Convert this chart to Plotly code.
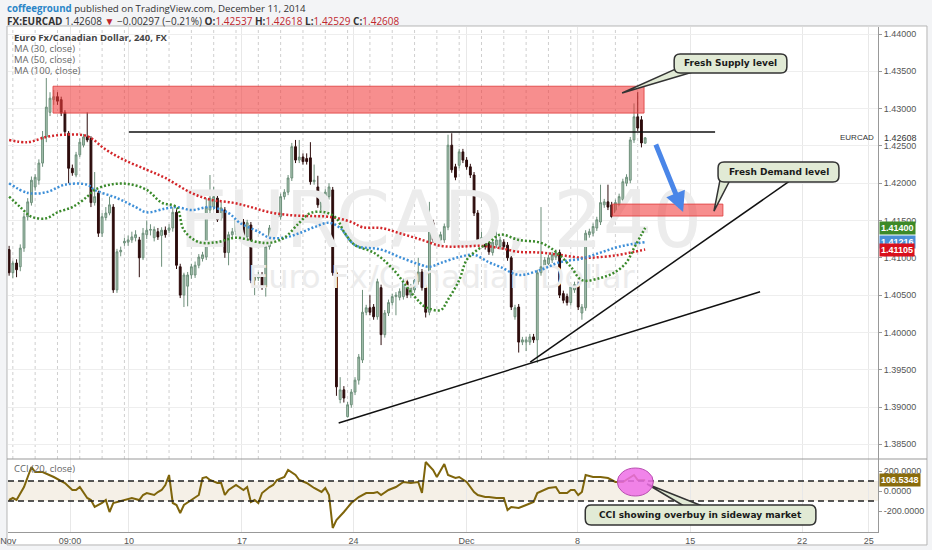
import plotly.graph_objects as go

# ---------------- data (EURCAD, 4h bars) ----------------
# bar index 0 = first candle at the left edge, 171 = Dec 11 last candle
opens = [1.4111, 1.4080, 1.4093, 1.4088, 1.4113, 1.4155, 1.4174, 1.4195, 1.4204, 1.4227,
         1.4262, 1.4295, 1.4312, 1.4316, 1.4312, 1.4295, 1.4267, 1.4220, 1.4211, 1.4238,
         1.4251, 1.4262, 1.4260, 1.4174, 1.4187, 1.4133, 1.4154, 1.4160, 1.4168, 1.4057,
         1.4108, 1.4120, 1.4121, 1.4124, 1.4127, 1.4124, 1.4100, 1.4131, 1.4137, 1.4127,
         1.4135, 1.4130, 1.4137, 1.4137, 1.4140, 1.4161, 1.4088, 1.4050, 1.4062, 1.4077,
         1.4077, 1.4090, 1.4099, 1.4101, 1.4164, 1.4168, 1.4180, 1.4153, 1.4164, 1.4107,
         1.4131, 1.4135, 1.4147, 1.4148, 1.4128, 1.4144, 1.4070, 1.4073, 1.4077, 1.4061,
         1.4115, 1.4140, 1.4161, 1.4155, 1.4182, 1.4188, 1.4207, 1.4249, 1.4231, 1.4235,
         1.4233, 1.4234, 1.4202, 1.4195, 1.4164, 1.4174, 1.4182, 1.4191, 1.4080, 1.3910,
         1.3923, 1.3887, 1.3903, 1.3920, 1.3936, 1.3963, 1.4027, 1.4033, 1.4034, 1.4021,
         1.4060, 1.3997, 1.4026, 1.4040, 1.4048, 1.4047, 1.4048, 1.4068, 1.4050, 1.4057,
         1.4068, 1.4081, 1.4060, 1.4027, 1.4147, 1.4121, 1.4124, 1.4124, 1.4141, 1.4251,
         1.4222, 1.4224, 1.4242, 1.4231, 1.4222, 1.4211, 1.4160, 1.4121, 1.4124, 1.4120,
         1.4107, 1.4117, 1.4115, 1.4121, 1.4117, 1.4100, 1.4021, 1.4034, 1.3987, 1.3987,
         1.3987, 1.3994, 1.3990, 1.4080, 1.4088, 1.4092, 1.4097, 1.4101, 1.4107, 1.4052,
         1.4048, 1.4040, 1.4057, 1.4064, 1.4026, 1.4033, 1.4131, 1.4133, 1.4140, 1.4148,
         1.4171, 1.4175, 1.4171, 1.4160, 1.4171, 1.4178, 1.4200, 1.4204, 1.4258, 1.4289,
         1.4285, 1.42537]
highs = [1.4116, 1.4096, 1.4098, 1.4118, 1.4160, 1.4180, 1.4209, 1.4212, 1.4232, 1.4270,
         1.4341, 1.4322, 1.4325, 1.4322, 1.4316, 1.4298, 1.4270, 1.4225, 1.4242, 1.4260,
         1.4266, 1.4295, 1.4263, 1.4215, 1.4190, 1.4160, 1.4168, 1.4182, 1.4172, 1.4112,
         1.4115, 1.4127, 1.4130, 1.4135, 1.4137, 1.4128, 1.4140, 1.4150, 1.4145, 1.4142,
         1.4140, 1.4141, 1.4142, 1.4145, 1.4168, 1.4165, 1.4092, 1.4080, 1.4081, 1.4092,
         1.4095, 1.4105, 1.4108, 1.4180, 1.4211, 1.4195, 1.4185, 1.4175, 1.4168, 1.4135,
         1.4140, 1.4155, 1.4175, 1.4152, 1.4151, 1.4148, 1.4078, 1.4081, 1.4081, 1.4119,
         1.4144, 1.4188, 1.4166, 1.4186, 1.4192, 1.4211, 1.4254, 1.4258, 1.4258, 1.4240,
         1.4240, 1.4255, 1.4225, 1.4210, 1.4179, 1.4192, 1.4200, 1.4195, 1.4084, 1.3940,
         1.3928, 1.3907, 1.3924, 1.3940, 1.3971, 1.4057, 1.4037, 1.4050, 1.4038, 1.4072,
         1.4064, 1.4030, 1.4044, 1.4052, 1.4054, 1.4059, 1.4072, 1.4072, 1.4065, 1.4074,
         1.4100, 1.4085, 1.4064, 1.4175, 1.4151, 1.4132, 1.4135, 1.4146, 1.4265, 1.4267,
         1.4226, 1.4246, 1.4246, 1.4235, 1.4226, 1.4215, 1.4164, 1.4135, 1.4128, 1.4133,
         1.4125, 1.4147, 1.4128, 1.4125, 1.4121, 1.4104, 1.4037, 1.4038, 1.3994, 1.3994,
         1.3998, 1.3998, 1.4084, 1.4168, 1.4101, 1.4104, 1.4108, 1.4111, 1.4111, 1.4056,
         1.4052, 1.4065, 1.4068, 1.4068, 1.4038, 1.4137, 1.4139, 1.4146, 1.4155, 1.4198,
         1.4179, 1.4198, 1.4175, 1.4178, 1.4186, 1.4206, 1.4212, 1.4262, 1.4307, 1.4322,
         1.4290, 1.42618]
lows = [1.4076, 1.4073, 1.4074, 1.4082, 1.4108, 1.4150, 1.4170, 1.4190, 1.4198, 1.4222,
        1.4255, 1.4290, 1.4305, 1.4305, 1.4290, 1.4265, 1.4200, 1.4210, 1.4208, 1.4235,
        1.4248, 1.4255, 1.4168, 1.4170, 1.4128, 1.4128, 1.4150, 1.4157, 1.4053, 1.4053,
        1.4102, 1.4116, 1.4116, 1.4120, 1.4122, 1.4074, 1.4097, 1.4125, 1.4130, 1.4122,
        1.4124, 1.4088, 1.4127, 1.4133, 1.4135, 1.4085, 1.4046, 1.4034, 1.4035, 1.4072,
        1.4073, 1.4086, 1.4095, 1.4097, 1.4160, 1.4164, 1.4148, 1.4150, 1.4100, 1.4090,
        1.4127, 1.4131, 1.4143, 1.4124, 1.4124, 1.4066, 1.4050, 1.4069, 1.4057, 1.4048,
        1.4111, 1.4136, 1.4150, 1.4151, 1.4178, 1.4184, 1.4203, 1.4227, 1.4227, 1.4225,
        1.4225, 1.4198, 1.4198, 1.4167, 1.4160, 1.4170, 1.4178, 1.4076, 1.3915, 1.3905,
        1.3906, 1.3886, 1.3899, 1.3916, 1.3930, 1.3959, 1.4023, 1.4023, 1.4017, 1.4017,
        1.3983, 1.3993, 1.4022, 1.4036, 1.4023, 1.4043, 1.4044, 1.4046, 1.4046, 1.4053,
        1.4064, 1.4056, 1.4020, 1.4023, 1.4120, 1.4117, 1.4120, 1.4120, 1.4137, 1.4214,
        1.4204, 1.4220, 1.4227, 1.4218, 1.4207, 1.4156, 1.4117, 1.4117, 1.4111, 1.4104,
        1.4103, 1.4113, 1.4111, 1.4111, 1.4096, 1.4030, 1.4017, 1.3973, 1.3983, 1.3975,
        1.3983, 1.3986, 1.3959, 1.4076, 1.4084, 1.4088, 1.4093, 1.4097, 1.4046, 1.4039,
        1.4036, 1.4036, 1.4053, 1.4030, 1.4017, 1.4029, 1.4127, 1.4129, 1.4136, 1.4144,
        1.4167, 1.4164, 1.4137, 1.4156, 1.4167, 1.4174, 1.4196, 1.4200, 1.4254, 1.4270,
        1.4248, 1.42529]
closes = [1.4080, 1.4093, 1.4084, 1.4113, 1.4155, 1.4175, 1.4204, 1.4208, 1.4227, 1.4262,
          1.4302, 1.4314, 1.4316, 1.4310, 1.4294, 1.4269, 1.4220, 1.4214, 1.4238, 1.4255,
          1.4262, 1.4258, 1.4174, 1.4182, 1.4133, 1.4155, 1.4160, 1.4171, 1.4057, 1.4108,
          1.4110, 1.4122, 1.4124, 1.4128, 1.4131, 1.4100, 1.4133, 1.4137, 1.4138, 1.4138,
          1.4128, 1.4137, 1.4131, 1.4140, 1.4161, 1.4090, 1.4050, 1.4077, 1.4077, 1.4088,
          1.4090, 1.4101, 1.4104, 1.4168, 1.4180, 1.4182, 1.4151, 1.4167, 1.4107, 1.4131,
          1.4135, 1.4151, 1.4153, 1.4128, 1.4147, 1.4070, 1.4074, 1.4077, 1.4061, 1.4115,
          1.4140, 1.4160, 1.4154, 1.4182, 1.4188, 1.4207, 1.4249, 1.4231, 1.4235, 1.4229,
          1.4229, 1.4202, 1.4204, 1.4171, 1.4175, 1.4188, 1.4195, 1.4080, 1.3927, 1.3923,
          1.3912, 1.3903, 1.3920, 1.3936, 1.3967, 1.4027, 1.4033, 1.4027, 1.4021, 1.4068,
          1.3997, 1.4026, 1.4040, 1.4048, 1.4050, 1.4055, 1.4068, 1.4050, 1.4061, 1.4070,
          1.4081, 1.4060, 1.4027, 1.4147, 1.4124, 1.4128, 1.4131, 1.4142, 1.4251, 1.4218,
          1.4208, 1.4242, 1.4231, 1.4222, 1.4211, 1.4160, 1.4121, 1.4127, 1.4115, 1.4108,
          1.4121, 1.4124, 1.4124, 1.4115, 1.4100, 1.4034, 1.4033, 1.3987, 1.3990, 1.3990,
          1.3994, 1.3990, 1.4080, 1.4088, 1.4097, 1.4100, 1.4104, 1.4107, 1.4050, 1.4043,
          1.4040, 1.4061, 1.4064, 1.4034, 1.4034, 1.4133, 1.4135, 1.4142, 1.4151, 1.4174,
          1.4175, 1.4168, 1.4155, 1.4174, 1.4182, 1.4202, 1.4208, 1.4258, 1.4289, 1.4274,
          1.4254, 1.42608]
assert len(opens) == len(highs) == len(lows) == len(closes)
bars = list(range(len(closes)))

# moving averages (read at sample bars)
ma30_x = [0, 3, 6, 10, 13, 17, 21, 23, 27, 32, 37, 41, 45, 47, 51, 56, 61, 67, 70, 74,
          78, 81, 85, 88, 90, 93, 98, 103, 109, 112, 116, 118, 121, 123, 126, 129, 132, 137, 143, 147,
          151, 154, 159, 163, 166, 168, 170, 171]
ma30_y = [1.4182, 1.4168, 1.4155, 1.4153, 1.4161, 1.4168, 1.4182, 1.4191, 1.4198, 1.4199,
          1.4191, 1.4174, 1.4168, 1.4137, 1.4121, 1.4121, 1.4127, 1.4121, 1.4120, 1.4127,
          1.4147, 1.4160, 1.4161, 1.4153, 1.4135, 1.4117, 1.4107, 1.4086, 1.4048, 1.4034,
          1.4030, 1.4044, 1.4070, 1.4097, 1.4111, 1.4120, 1.4131, 1.4124, 1.4120, 1.4108,
          1.4088, 1.4070, 1.4073, 1.4081, 1.4094, 1.4113, 1.4131, 1.4140]
ma50_x = [0, 5, 10, 15, 21, 23, 29, 34, 37, 42, 45, 49, 54, 59, 62, 67, 70, 74, 78, 82,
          86, 89, 93, 100, 105, 111, 113, 116, 121, 125, 129, 132, 137, 143, 148, 154, 159, 164, 171]
ma50_y = [1.4200, 1.4187, 1.4188, 1.4198, 1.4198, 1.4191, 1.4180, 1.4168, 1.4161, 1.4166,
          1.4168, 1.4164, 1.4168, 1.4160, 1.4147, 1.4135, 1.4127, 1.4127, 1.4133, 1.4141,
          1.4147, 1.4140, 1.4117, 1.4111, 1.4101, 1.4090, 1.4088, 1.4093, 1.4101, 1.4104,
          1.4094, 1.4088, 1.4077, 1.4084, 1.4094, 1.4099, 1.4107, 1.4115, 1.4121]
ma100_x = [0, 5, 10, 15, 21, 26, 31, 37, 42, 49, 54, 60, 65, 70, 76, 81, 86, 92, 95, 100,
           105, 111, 116, 121, 127, 132, 137, 143, 148, 154, 159, 164, 168, 171]
ma100_y = [1.4258, 1.4255, 1.4262, 1.4265, 1.4263, 1.4245, 1.4231, 1.4218, 1.4207, 1.4187,
           1.4178, 1.4174, 1.4168, 1.4161, 1.4157, 1.4156, 1.4155, 1.4148, 1.4141, 1.4140,
           1.4133, 1.4124, 1.4116, 1.4115, 1.4116, 1.4113, 1.4108, 1.4107, 1.4104, 1.4100,
           1.4101, 1.4104, 1.4108, 1.4111]

# CCI (20, close)
cci_x = [0, 1, 2, 4, 6, 7, 9, 12, 15, 17, 18, 19, 21, 22, 23, 25, 26, 27, 28, 31,
         33, 35, 36, 37, 39, 40, 41, 42, 43, 44, 45, 46, 47, 49, 51, 52, 53, 54, 56, 57,
         58, 59, 61, 63, 64, 65, 66, 67, 68, 70, 71, 72, 74, 75, 77, 78, 80, 82, 84, 85,
         86, 87, 88, 90, 92, 94, 96, 98, 99, 100, 102, 104, 106, 108, 110, 111, 112, 114, 115, 117,
         118, 120, 121, 123, 125, 126, 128, 129, 131, 133, 134, 135, 137, 139, 141, 142, 145, 147, 148, 150,
         151, 152, 153, 154, 155, 157, 159, 161, 163, 165, 168, 169, 171]
cci_y = [-90, -70, -90, 40, 240, 190, 190, 140, 80, 10, 10, 40, -70, -90, -160, -120, -90, -210, -120, -90,
         -70, -90, -40, -20, -40, -10, 10, 60, 160, -120, -140, -220, -140, -90, -40, 130, 140, 110, 80, 80,
         -40, 10, 60, 10, 40, -110, -90, -120, -20, 40, 60, 110, 140, 210, 160, 110, 80, 30, -10, 30,
         -40, -370, -290, -210, -120, -60, -20, -20, -10, -40, 10, 40, 90, 80, 90, -20, 290, 210, 140, 270,
         160, 130, 140, 90, -10, -40, -60, -60, -70, -70, -190, -160, -170, -140, -110, -20, 30, 40, -20, -20,
         10, 10, -40, -10, 160, 140, 140, 130, 90, 90, 160, 110, 106.5348]

# x axis labels (bar positions)
tick_pos = [-0.2, 16.4, 32.2, 62.6, 92.6, 123.0, 152.8, 183.1, 213.2, 231.1]
tick_text = ["Nov", "09:00", "10", "17", "24", "Dec", "8", "15", "22", "25"]
price_ticks = [1.385, 1.390, 1.395, 1.400, 1.405, 1.410, 1.415, 1.420, 1.425, 1.430, 1.435, 1.440]
cci_ticks = [200, 0, -200]
cci_tick_text = ["200.0000", "0.0000", "-200.0000"]

# ---------------- figure ----------------
AX_FONT = dict(family="Liberation Sans", size=9, color="#555555")
TXT = "Open Sans"

fig = go.Figure()

# watermark (drawn first so it stays under the candles)
fig.add_trace(go.Scatter(x=[116.0], y=[1.4140], mode="text", text=["EURCAD, 240"],
                         textfont=dict(family="DejaVu Sans", size=78, color="#ececec"),
                         hoverinfo="skip", showlegend=False))
fig.add_trace(go.Scatter(x=[116.2], y=[1.4070], mode="text", text=["Euro Fx/Canadian Dollar"],
                         textfont=dict(family="DejaVu Sans", size=32, color="#ececec"),
                         hoverinfo="skip", showlegend=False))

fig.add_trace(go.Candlestick(
    x=bars, open=opens, high=highs, low=lows, close=closes,
    increasing=dict(fillcolor="#a9c5b3", line=dict(color="#6d8f7a", width=1)),
    decreasing=dict(fillcolor="#2d0c0c", line=dict(color="#2d0c0c", width=1)),
    whiskerwidth=0, showlegend=False, hoverinfo="skip"))

for xs, ys, col in [(ma100_x, ma100_y, "#d3262a"),
                    (ma50_x, ma50_y, "#3d8fd8"),
                    (ma30_x, ma30_y, "#3b8a2c")]:
    fig.add_trace(go.Scatter(x=xs, y=ys, mode="lines",
                             line=dict(color=col, width=2.5, dash="2px,2px", shape="spline"),
                             hoverinfo="skip", showlegend=False))

fig.add_trace(go.Scatter(x=cci_x, y=cci_y, yaxis="y2", mode="lines",
                         line=dict(color="#7f650b", width=2),
                         hoverinfo="skip", showlegend=False))

shapes = []
# white chart frame
shapes.append(dict(type="rect", xref="paper", yref="paper", x0=-0.00115, x1=1.0563,
                   y0=-0.0257, y1=1.002, fillcolor="white",
                   line=dict(color="#b5b5b5", width=1), layer="below"))
# daily dotted lines
for d in range(1, 170, 6):
    shapes.append(dict(type="line", xref="x", yref="y domain", x0=d, x1=d, y0=0, y1=1,
                       line=dict(color="#cfcfcf", width=1, dash="dot"), layer="below"))
# CCI band and levels
shapes.append(dict(type="rect", xref="x domain", yref="y2", x0=0, x1=1, y0=-100, y1=100,
                   fillcolor="#f5f0e7", line=dict(width=0), layer="below"))
for lvl in (100, -100):
    shapes.append(dict(type="line", xref="x domain", yref="y2", x0=0, x1=1, y0=lvl, y1=lvl,
                       line=dict(color="#222222", width=1.5, dash="6px,4px")))
# panel separator
shapes.append(dict(type="line", xref="paper", yref="paper", x0=-0.00115, x1=1.0563,
                   y0=0.14455, y1=0.14455, line=dict(color="#999999", width=1)))

ZONE_FILL = "rgba(242,60,60,0.58)"
ZONE_LINE = "rgba(225,70,70,0.9)"
# supply / demand zones
shapes.append(dict(type="rect", x0=11.8, x1=170.7, y0=1.4294, y1=1.4330,
                   fillcolor=ZONE_FILL, line=dict(color=ZONE_LINE, width=1)))
shapes.append(dict(type="rect", x0=162.1, x1=191.9, y0=1.4156, y1=1.4172,
                   fillcolor=ZONE_FILL, line=dict(color=ZONE_LINE, width=1)))
# resistance line and trendlines
shapes.append(dict(type="line", x0=32.2, x1=189.8, y0=1.42686, y1=1.42686,
                   line=dict(color="#111111", width=1.5)))
shapes.append(dict(type="line", x0=88.6, x1=201.9, y0=1.38785, y1=1.40544,
                   line=dict(color="#111111", width=1.5)))
shapes.append(dict(type="line", x0=140.1, x1=209.9, y0=1.39603, y1=1.42030,
                   line=dict(color="#111111", width=1.5)))


def rounded_box(x0, x1, y0, y1, rx, ry):
    return (f"M {x0 + rx},{y1} L {x1 - rx},{y1} Q {x1},{y1} {x1},{y1 - ry} "
            f"L {x1},{y0 + ry} Q {x1},{y0} {x1 - rx},{y0} L {x0 + rx},{y0} "
            f"Q {x0},{y0} {x0},{y0 + ry} L {x0},{y1 - ry} Q {x0},{y1} {x0 + rx},{y1} Z")


BOX_FILL = "#e1ead5"
BOX_LINE = dict(color="#333333", width=1.5)


def callout(yref, box, tail, rx, ry):
    a, tip, b = tail
    shapes.append(dict(type="path", xref="x", yref=yref,
                       path=f"M {a[0]},{a[1]} L {tip[0]},{tip[1]} L {b[0]},{b[1]} Z",
                       fillcolor=BOX_FILL, line=BOX_LINE))
    shapes.append(dict(type="path", xref="x", yref=yref,
                       path=rounded_box(*box, rx, ry), fillcolor=BOX_FILL, line=BOX_LINE))


callout("y", (178.8, 209.1, 1.43477, 1.43732),
        ((180.5, 1.43560), (164.8, 1.43209), (184.5, 1.43500)), 1.6, 0.0008)
callout("y", (190.6, 223.1, 1.42016, 1.42284),
        ((191.2, 1.42060), (189.5, 1.41627), (194.0, 1.42060)), 1.6, 0.0008)
callout("y2", (154.9, 216.9, -340, -140),
        ((182.3, -170), (171.5, 70), (187.7, -170)), 1.6, 60)
# pink highlight on the CCI
shapes.append(dict(type="circle", xref="x", yref="y2", x0=163.5, x1=173.2, y0=-50, y1=230,
                   fillcolor="rgba(238,110,230,0.85)", line=dict(color="#b84fb0", width=1)))

RED = "#c0262d"
ann = []
ann.append(dict(xref="paper", yref="paper", x=-0.0035, y=1.0376, xanchor="left", yanchor="middle",
                showarrow=False, font=dict(family=TXT, size=9.7, color="#333333"),
                text='<span style="color:#2a86c8"><b>coffeeground</b></span> published on TradingView.com, December 11, 2014'))
ann.append(dict(xref="paper", yref="paper", x=-0.0035, y=1.0119, xanchor="left", yanchor="middle",
                showarrow=False, font=dict(family=TXT, size=10, color="#333333"),
                text=(f'<b>FX:EURCAD</b> 1.42608 <span style="color:{RED}">▼</span> −0.00297 (−0.21%) '
                      f'<b>O:</b><span style="color:{RED}">1.42537</span> '
                      f'<b>H:</b><span style="color:{RED}">1.42618</span> '
                      f'<b>L:</b><span style="color:{RED}">1.42529</span> '
                      f'<b>C:</b><span style="color:{RED}">1.42608</span>')))
legend_lines = [("<b>Euro Fx/Canadian Dollar, 240, FX</b>", 0.9795, "#444444"),
                ("MA (30, close)", 0.9573, "#666666"),
                ("MA (50, close)", 0.9355, "#666666"),
                ("MA (100, close)", 0.9143, "#666666"),
                ("CCI (20, close)", 0.1267, "#666666")]
for txt, yy, col in legend_lines:
    ann.append(dict(xref="paper", yref="paper", x=0.0046, y=yy, xanchor="left", yanchor="middle",
                    showarrow=False, font=dict(family=TXT, size=9.5, color=col), text=txt))

# callout texts
CALL_FONT = dict(family="DejaVu Sans", size=9, color="#1a1a1a")
ann.append(dict(x=193.95, y=1.43605, text="<b>Fresh Supply level</b>", showarrow=False, font=CALL_FONT))
ann.append(dict(x=206.85, y=1.42150, text="<b>Fresh Demand level</b>", showarrow=False, font=CALL_FONT))
ann.append(dict(x=185.9, y=-240, yref="y2", text="<b>CCI showing overbuy in sideway market</b>",
                showarrow=False, font=CALL_FONT))
# blue arrow
ann.append(dict(x=181.2, y=1.41614, ax=173.7, ay=1.42539, axref="x", ayref="y", text="",
                showarrow=True, arrowhead=2, arrowsize=0.8, arrowwidth=5, arrowcolor="#4a86e8"))

# right-axis tags
ann.append(dict(xref="paper", x=0.9975, y=1.42608, xanchor="right", text="EURCAD", showarrow=False,
                font=dict(family="Liberation Sans", size=8, color="#333333")))
ann.append(dict(xref="paper", x=1.0045, y=1.42608, xanchor="left", text="1.42608", showarrow=False,
                font=dict(family="Liberation Sans", size=9, color="#333333")))
for val, txt, bg, yr in [(1.4140, "1.41400", "#3d8a28", "y"),
                         (1.41216, "1.41216", "#4a8fd6", "y"),
                         (1.41105, "1.41105", "#d9101c", "y"),
                         (106.5348, "106.5348", "#8a6c0c", "y2")]:
    ann.append(dict(xref="paper", x=1.001, y=val, yref=yr, xanchor="left", text=f"<b>{txt}</b>",
                    showarrow=False, bgcolor=bg, borderpad=1,
                    font=dict(family="Liberation Sans", size=9, color="white")))

fig.update_layout(
    width=932, height=550,
    margin=dict(l=8, r=54, t=27, b=18),
    paper_bgcolor="#f3f4f6", plot_bgcolor="white",
    showlegend=False, hovermode=False,
    shapes=shapes, annotations=ann,
    xaxis=dict(range=[-0.3, 233.6], tickvals=tick_pos, ticktext=tick_text,
               showgrid=True, gridcolor="#e8e8e8", zeroline=False, automargin=False,
               showline=True, linecolor="#999999", ticks="", tickfont=AX_FONT,
               rangeslider=dict(visible=False), anchor="y2"),
    yaxis=dict(domain=[0.14455, 1], range=[1.38303, 1.44094], side="right",
               tickvals=price_ticks, tickformat=".5f", automargin=False,
               showgrid=True, gridcolor="#eeeeee", zeroline=False,
               showline=True, linecolor="#999999", ticks="outside", ticklen=3,
               tickcolor="#999999", tickfont=AX_FONT),
    yaxis2=dict(domain=[0, 0.14455], range=[-410, 320], side="right",
                tickvals=cci_ticks, ticktext=cci_tick_text, automargin=False,
                showgrid=False, zeroline=False,
                showline=True, linecolor="#999999", ticks="outside", ticklen=3,
                tickcolor="#999999", tickfont=AX_FONT),
)

# drop the default 8px page margin so the figure fills the window exactly
fig.write_html("out.html", config={"displayModeBar": False},
               post_script="document.body.style.margin = '0px';")
